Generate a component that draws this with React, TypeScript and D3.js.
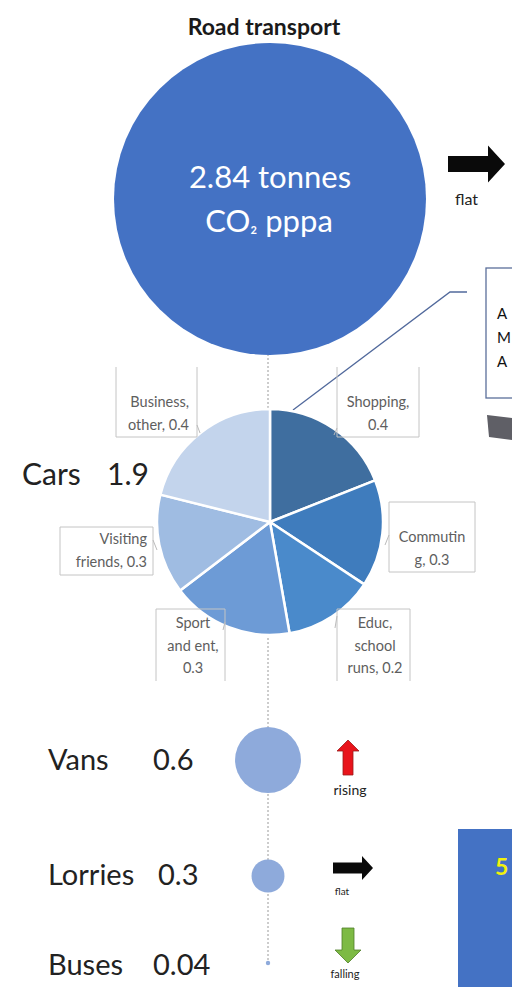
import React from "react";
import * as d3 from "d3";

const totalValue = 2.84;
const totalLines = ["2.84 tonnes", "CO₂ pppa"];
const title = "Road transport";

const carPurposes = ["Shopping", "Commuting", "Educ", "Sport", "Visiting", "Business"];
const carValues = [0.36, 0.29, 0.245, 0.33, 0.27, 0.4];
const carLabelLines = [
  ["Shopping,", "0.4"],
  ["Commutin", "g, 0.3"],
  ["Educ,", "school", "runs, 0.2"],
  ["Sport", "and ent,", "0.3"],
  ["Visiting", "friends, 0.3"],
  ["Business,", "other, 0.4"],
];
const carColors = ["#3F6E9F", "#3F7CBD", "#4A8ACB", "#6D9BD6", "#9FBCE2", "#C3D4EC"];

const modes = ["Vans", "Lorries", "Buses"];
const modeValues = [0.6, 0.3, 0.04];
const modeValueLabels = ["0.6", "0.3", "0.04"];
const modeTrends = ["rising", "flat", "falling"];
const annotationLetters = ["A", "M", "A"];

const W = 512;
const H = 987;

const labelBoxes = [
  { x: 337, y: 367, w: 82, h: 70, sides: "lrb", anchor: "middle", tx: 378, ty: 407, lead: [[337, 428], [334, 435]] },
  { x: 389, y: 502, w: 86, h: 70, sides: "lrtb", anchor: "middle", tx: 432, ty: 542, lead: [[389, 535], [385, 545]] },
  { x: 337, y: 609, w: 73, h: 72, sides: "lrt", anchor: "middle", tx: 375, ty: 628, lead: [[337, 616], [335, 628]] },
  { x: 156, y: 609, w: 69, h: 72, sides: "lrt", anchor: "middle", tx: 193, ty: 628, lead: [[225, 622], [223, 630]] },
  { x: 60, y: 527, w: 93, h: 48, sides: "lrtb", anchor: "end", tx: 147, ty: 544, lead: [[153, 540], [157, 550]] },
  { x: 116, y: 367, w: 81, h: 70, sides: "lrb", anchor: "end", tx: 189, ty: 407, lead: [[197, 425], [200, 433]] },
];

function boxPath(b: any) {
  const { x, y, w, h, sides } = b;
  let p = "";
  if (sides.includes("l")) p += `M${x},${y}V${y + h}`;
  if (sides.includes("r")) p += `M${x + w},${y}V${y + h}`;
  if (sides.includes("t")) p += `M${x},${y}H${x + w}`;
  if (sides.includes("b")) p += `M${x},${y + h}H${x + w}`;
  return p;
}

function Arrow({ kind, x, y }: { kind: string; x: number; y: number }) {
  if (kind === "rising") {
    const p = `M${x},${y} L${x + 11},${y + 11} L${x + 5},${y + 11} L${x + 5},${y + 35} L${x - 5},${y + 35} L${x - 5},${y + 11} L${x - 11},${y + 11} Z`;
    return <path d={p} fill="#E8141B" stroke="#9b1b1b" strokeWidth={0.8} />;
  }
  if (kind === "falling") {
    const p = `M${x},${y + 35} L${x + 13},${y + 22} L${x + 6},${y + 22} L${x + 6},${y} L${x - 6},${y} L${x - 6},${y + 22} L${x - 13},${y + 22} Z`;
    return <path d={p} fill="#7DBA44" stroke="#4f7f2a" strokeWidth={0.8} />;
  }
  return null;
}

function FlatArrow({ x, y, len, head, shaft, hh }: any) {
  const p = `M${x},${y - shaft / 2} H${x + len - head} V${y - hh / 2} L${x + len},${y} L${x + len - head},${y + hh / 2} V${y + shaft / 2} H${x} Z`;
  return <path d={p} fill="#0a0a0a" />;
}

export default function App() {
  const cx = 269;
  const rScale = d3.scaleLinear().domain([0, totalValue]).range([0, 156]);
  const bigCy = 199;
  const pieCy = 522;
  const pieR = 113;
  const modeY = [760, 876, 963];
  const modeTextY = [770, 885, 975];

  const pie = d3.pie<number>().sort(null).value((d) => d);
  const arcs = pie(carValues);
  const arc = d3.arc<d3.PieArcDatum<number>>().innerRadius(0).outerRadius(pieR);

  const font = "Lato, 'Open Sans', sans-serif";

  return (
    <svg width={W} height={H} style={{ position: "absolute", left: 0, top: 0, background: "#fff" }} fontFamily={font}>
      <rect x={0} y={0} width={W} height={H} fill="#fff" />
      {/* vertical dotted axis */}
      <line x1={cx - 1} x2={cx - 1} y1={bigCy + rScale(totalValue) - 5} y2={modeY[2]} stroke="#9a9a9a" strokeWidth={1} strokeDasharray="2,2" />

      <text x={264} y={35} textAnchor="middle" fontWeight={700} fontSize={23} fill="#1a1a1a">{title}</text>

      <circle cx={cx + 1} cy={bigCy} r={rScale(totalValue)} fill="#4472C4" />
      <text x={cx + 1} y={188} textAnchor="middle" fontSize={31} fill="#fff">{totalLines[0]}</text>
      <text x={cx} y={232} textAnchor="middle" fontSize={31} fill="#fff">
        CO<tspan fontSize={21}>₂</tspan> pppa
      </text>

      <FlatArrow x={448} y={164} len={57} head={17} shaft={16} hh={37} />
      <text x={455} y={205} fontSize={16} fill="#222">flat</text>

      {/* annotation box */}
      <rect x={486} y={268} width={40} height={130} fill="#fff" stroke="#5B6F9A" strokeWidth={1.3} />
      {annotationLetters.map((t, i) => (
        <text key={"an" + i} x={497} y={319 + i * 24} fontSize={15} fill="#111">{t}</text>
      ))}
      <path d="M487,415 L512,418 L512,440 L489,437 Z" fill="#5f5f66" />
      <path d="M293,410 L450,292 L467,292" fill="none" stroke="#51699c" strokeWidth={1.3} />

      {/* Cars pie */}
      <g transform={`translate(${cx + 1},${pieCy})`}>
        {arcs.map((a, i) => (
          <path key={carPurposes[i]} d={arc(a) as string} fill={carColors[i]} stroke="#fff" strokeWidth={2.5} strokeLinejoin="round" />
        ))}
      </g>
      {labelBoxes.map((b, i) => (
        <g key={"lb" + i}>
          <path d={boxPath(b)} stroke="#c4c4c4" strokeWidth={1} fill="none" />
          <path d={`M${b.lead[0][0]},${b.lead[0][1]} L${b.lead[1][0]},${b.lead[1][1]}`} stroke="#bbb" strokeWidth={1} />
          {carLabelLines[i].map((t, j) => (
            <text key={j} x={b.tx} y={b.ty + j * 22.5} textAnchor={b.anchor} fontSize={14.5} fill="#5e5e5e">{t}</text>
          ))}
        </g>
      ))}
      <text x={22} y={485} fontSize={30} fill="#222">Cars</text>
      <text x={107} y={485} fontSize={30} fill="#222">1.9</text>

      {/* other modes */}
      {modes.map((m, i) => (
        <g key={m}>
          <circle cx={cx - 1} cy={modeY[i]} r={Math.max(rScale(modeValues[i]), 2)} fill="#8EAADB" />
          <text x={48} y={modeTextY[i]} fontSize={29} fill="#222">{m}</text>
          <text x={[153, 158, 153][i]} y={modeTextY[i]} fontSize={29} fill="#222">{modeValueLabels[i]}</text>
        </g>
      ))}
      <Arrow kind="rising" x={348} y={740} />
      <text x={350} y={795} textAnchor="middle" fontSize={14} fill="#222">{modeTrends[0]}</text>
      <FlatArrow x={333} y={868} len={40} head={11} shaft={11} hh={24} />
      <text x={342} y={895} textAnchor="middle" fontSize={10} fill="#222">{modeTrends[1]}</text>
      <Arrow kind="falling" x={348} y={928} />
      <text x={345} y={978} textAnchor="middle" fontSize={11} fill="#222">{modeTrends[2]}</text>

      {/* right-bottom box */}
      <rect x={458} y={829} width={60} height={170} fill="#4472C4" />
      <text x={495} y={875} fontSize={23} fontWeight={700} fill="#F2F20A">5</text>
    </svg>
  );
}
